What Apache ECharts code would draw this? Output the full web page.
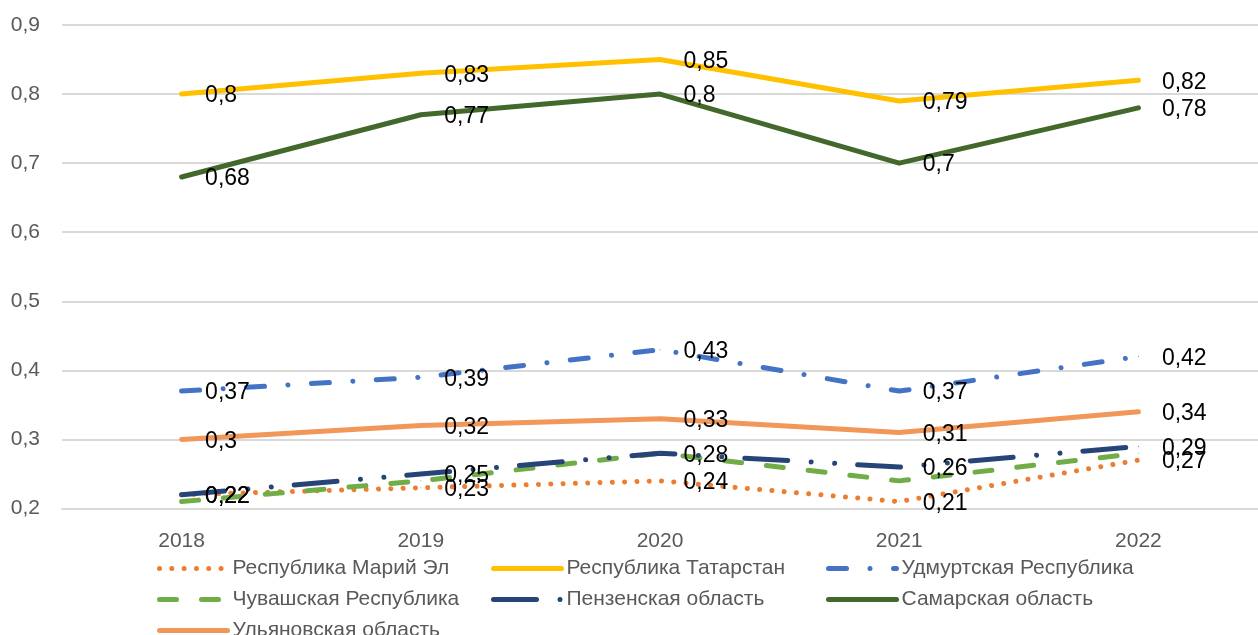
<!DOCTYPE html>
<html>
<head>
<meta charset="utf-8">
<script src="https://cdn.jsdelivr.net/npm/echarts@6/dist/echarts.min.js"></script>
<style>
html,body{margin:0;padding:0;background:#fff;}
#chart{width:1258px;height:635px;}
</style>
</head>
<body>
<div id="chart"></div>
<script>
const years = ['2018', '2019', '2020', '2021', '2022'];
const yTicks = [0.2, 0.9, 0.1]; // min, max, interval

const mariEl    = [0.22, 0.23, 0.24, 0.21, 0.27];
const tatarstan = [0.80, 0.83, 0.85, 0.79, 0.82];
const udmurt    = [0.37, 0.39, 0.43, 0.37, 0.42];
const chuvash   = [0.21, 0.24, 0.28, 0.24, 0.28];
const penza     = [0.22, 0.25, 0.28, 0.26, 0.29];
const samara    = [0.68, 0.77, 0.80, 0.70, 0.78];
const ulyanovsk = [0.30, 0.32, 0.33, 0.31, 0.34];

const names = ['Республика Марий Эл', 'Республика Татарстан', 'Удмуртская Республика',
  'Чувашская Республика', 'Пензенская область', 'Самарская область', 'Ульяновская область'];

const FONT = '"Liberation Sans", Arial, sans-serif';
const fmt = v => String(+v.toFixed(2)).replace('.', ',');

function mk(name, data, color, dash, showLabel) {
  return {
    name: name,
    type: 'line',
    data: data,
    symbol: 'circle',
    symbolSize: 1,
    itemStyle: { color: color },
    lineStyle: { color: color, width: 5, type: dash, cap: 'round', join: 'round' },
    emphasis: { disabled: true },
    label: {
      show: showLabel,
      position: 'right',
      distance: 23,
      offset: [0, 2],
      color: '#000',
      fontFamily: FONT,
      fontSize: 23,
      formatter: p => fmt(p.value)
    },
    z: 2
  };
}

const series = [
  mk(names[0], mariEl, '#ED7D31', [0.01, 12.3], true),
  mk(names[1], tatarstan, '#FFC000', 'solid', true),
  mk(names[2], udmurt, '#4472C4', [18, 23.5, 0.01, 23.5], true),
  mk(names[3], chuvash, '#70AD47', [17, 25], false),
  mk(names[4], penza, '#264478', [43, 23.5, 0.01, 23.5, 0.01, 23], true),
  mk(names[5], samara, '#43682B', 'solid', true),
  mk(names[6], ulyanovsk, '#F1975A', 'solid', true)
];

function legend(left, data) {
  return {
    type: 'plain',
    orient: 'vertical',
    left: left,
    top: 558,
    height: 200,
    padding: 0,
    itemWidth: 68,
    itemHeight: 14,
    itemGap: 10,
    data: data,
    selectedMode: false,
    itemStyle: { opacity: 0 },
    lineStyle: { width: 5, cap: 'round' },
    textStyle: { color: '#595959', fontFamily: FONT, fontSize: 21, lineHeight: 21 }
  };
}

const chart = echarts.init(document.getElementById('chart'), null, { renderer: 'canvas' });
chart.setOption({
  animation: false,
  backgroundColor: '#fff',
  grid: { left: 62, top: 25, width: 1210, height: 483.5, containLabel: false },
  legend: [
    legend(157, [names[0], names[3], names[6]]),
    legend(491, [names[1], names[4]]),
    legend(826, [names[2], names[5]])
  ],
  xAxis: {
    type: 'category',
    data: years,
    boundaryGap: true,
    axisLine: { show: true, lineStyle: { color: '#D9D9D9', width: 2 } },
    axisTick: { show: false },
    axisLabel: { color: '#595959', fontFamily: FONT, fontSize: 21, margin: 22 }
  },
  yAxis: {
    type: 'value',
    min: yTicks[0],
    max: yTicks[1],
    interval: yTicks[2],
    axisLine: { show: false },
    axisTick: { show: false },
    splitLine: { lineStyle: { color: '#D9D9D9', width: 2 } },
    axisLabel: { color: '#595959', fontFamily: FONT, fontSize: 21, margin: 22, formatter: v => fmt(v) }
  },
  series: series
});
</script>
</body>
</html>
